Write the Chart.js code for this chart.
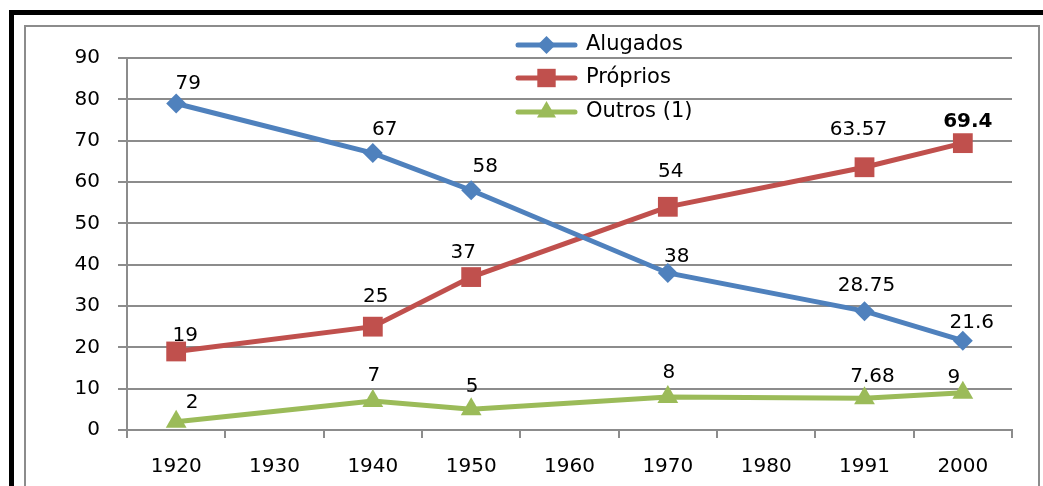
<!DOCTYPE html>
<html>
<head>
<meta charset="utf-8">
<title>Domicílios</title>
<script src="https://cdn.jsdelivr.net/npm/chart.js@4"></script>
<style>
  html, body { margin: 0; padding: 0; background: #fff; }
  #chart { display: block; }
</style>
</head>
<body>
<canvas id="chart" width="1043" height="486"></canvas>
<script>
/* Data */

const years = ['1920', '1930', '1940', '1950', '1960', '1970', '1980', '1991', '2000']
const alugados = [79, null, 67, 58, null, 38, null, 28.75, 21.6]
const proprios = [19, null, 25, 37, null, 54, null, 63.57, 69.4]
const outros = [2, null, 7, 5, null, 8, null, 7.68, 9]
const yTicks = [0, 10, 20, 30, 40, 50, 60, 70, 80, 90]

// where each value label sits relative to its marker
const shiftAlugados = [[12, -20], null, [12, -23], [14, -23], null, [9, -16], null, [2, -25], [9, -18]]
const shiftProprios = [[9, -16], null, [3, -30], [-8, -24], null, [3, -35], null, [-6, -37], [5, -21]]
const shiftOutros = [[16, -19], null, [1, -25], [1, -23], null, [1, -24], null, [8, -21], [-9, -15]]

const FONT = '"DejaVu Sans", Verdana, sans-serif'
const GRID = '#8c8c8c'

/* Plugins */

// black frame of the slide plus the grey chart border
const frame = {
  id: 'frame',
  beforeDraw(chart) {
    const c = chart.ctx
    c.save()
    c.fillStyle = '#fff'
    c.fillRect(0, 0, chart.width, chart.height)
    c.strokeStyle = GRID
    c.lineWidth = 2
    c.strokeRect(25, 26, 1014, 500)
    c.fillStyle = '#000'
    c.fillRect(9, 10, 1043 - 9, 5)
    c.fillRect(9, 10, 5, 486 - 10)
    c.restore()
  }
}

// value labels above the markers
const valueLabels = {
  id: 'valueLabels',
  afterDatasetsDraw(chart) {
    const c = chart.ctx
    c.save()
    c.fillStyle = '#000'
    c.textAlign = 'center'
    c.textBaseline = 'middle'
    chart.data.datasets.forEach((ds, i) => {
      const meta = chart.getDatasetMeta(i)
      meta.data.forEach((pt, j) => {
        const v = ds.data[j]
        if (v === null || v === undefined) return
        const s = ds.labelShift[j] || [0, -22]
        c.font = (ds.boldIndex === j ? 'bold ' : '') + '20px ' + FONT
        c.fillText(String(v), pt.x + s[0], pt.y + s[1])
      })
    })
    c.restore()
  }
}

// legend stacked inside the plot, line with marker
const innerLegend = {
  id: 'innerLegend',
  afterDraw(chart) {
    const c = chart.ctx
    const x0 = 518, x1 = 575, tx = 586
    const rows = [45, 78, 112]
    c.save()
    chart.data.datasets.forEach((ds, i) => {
      const y = rows[i]
      c.strokeStyle = ds.borderColor
      c.lineWidth = 5
      c.lineCap = 'round'
      c.beginPath()
      c.moveTo(x0, y)
      c.lineTo(x1, y)
      c.stroke()
      c.fillStyle = ds.backgroundColor
      Chart.helpers.drawPoint(c, {
        pointStyle: ds.pointStyle,
        radius: ds.legendRadius,
        rotation: 0,
        borderWidth: 0
      }, (x0 + x1) / 2, y)
      c.fillStyle = '#000'
      c.font = '21px ' + FONT
      c.textAlign = 'left'
      c.textBaseline = 'middle'
      c.fillText(ds.label, tx, y)
    })
    c.restore()
  }
}

/* Chart */

const ctx = document.querySelector('#chart').getContext('2d')
const domicilios = new Chart(ctx, {
  type: 'line',
  data: {
    labels: years,
    datasets: [{
      label: 'Alugados',
      data: alugados,
      borderColor: '#4f81bd',
      backgroundColor: '#4f81bd',
      pointStyle: 'rectRot',
      pointRadius: 10,
      legendRadius: 9,
      labelShift: shiftAlugados
    }, {
      label: 'Próprios',
      data: proprios,
      borderColor: '#c0504d',
      backgroundColor: '#c0504d',
      pointStyle: 'rect',
      pointRadius: 14,
      legendRadius: 13,
      labelShift: shiftProprios,
      boldIndex: 8
    }, {
      label: 'Outros (1)',
      data: outros,
      borderColor: '#9bbb59',
      backgroundColor: '#9bbb59',
      pointStyle: 'triangle',
      pointRadius: 12,
      legendRadius: 11,
      labelShift: shiftOutros
    }]
  },
  options: {
    responsive: false,
    animation: false,
    spanGaps: true,
    elements: {
      line: { borderWidth: 5, tension: 0 },
      point: { borderWidth: 0, hoverRadius: 12 }
    },
    layout: {
      padding: { left: 0, top: 58, right: 31, bottom: 0 }
    },
    plugins: {
      legend: { display: false },
      tooltip: { enabled: false }
    },
    scales: {
      x: {
        offset: true,
        afterFit(scale) { scale.height = 56 },
        grid: {
          offset: true,
          drawOnChartArea: false,
          color: GRID,
          lineWidth: 2,
          tickLength: 8
        },
        border: { color: GRID, width: 2 },
        ticks: {
          color: '#000',
          font: { family: FONT, size: 20 },
          padding: 17,
          maxRotation: 0,
          autoSkip: false
        }
      },
      y: {
        min: 0,
        max: 90,
        afterFit(scale) { scale.width = 127 },
        afterBuildTicks(scale) { scale.ticks = yTicks.map(v => ({ value: v })) },
        grid: {
          color: GRID,
          lineWidth: 2,
          tickLength: 9
        },
        border: { color: GRID, width: 2 },
        ticks: {
          color: '#000',
          font: { family: FONT, size: 20 },
          padding: 18
        }
      }
    }
  },
  plugins: [frame, valueLabels, innerLegend]
})
</script>
</body>
</html>
